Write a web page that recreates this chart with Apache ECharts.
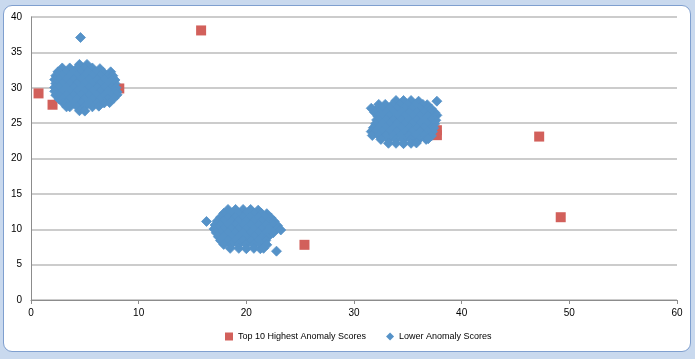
<!DOCTYPE html>
<html>
<head>
<meta charset="utf-8">
<script src="https://cdn.jsdelivr.net/npm/echarts@6/dist/echarts.min.js"></script>
<style>
  html, body { margin: 0; padding: 0; width: 695px; height: 359px; overflow: hidden; background: #c9d9ee; }
  #frame { position: absolute; left: 3px; top: 5px; width: 686px; height: 345px; background: #ffffff;
           border: 1px solid #7f9fcf; border-radius: 9px; }
  #chart { position: absolute; left: 0; top: 0; width: 695px; height: 359px; }
</style>
</head>
<body>
<div id="frame"></div>
<div id="chart"></div>
<script>
// Axis settings
var xTicks = [0, 10, 20, 30, 40, 50, 60];
var yTicks = [0, 5, 10, 15, 20, 25, 30, 35, 40];

var seriesNames = ["Top 10 Highest Anomaly Scores", "Lower Anomaly Scores"];

// Top 10 highest anomaly scores (x, y)
var topScores = [
  [0.7, 29.2], [2.0, 27.6], [8.2, 29.9], [15.8, 38.1], [25.4, 7.8],
  [37.7, 24.0], [37.7, 23.3], [47.2, 23.1], [49.2, 11.7], [37.4, 23.7]
];

// Lower anomaly scores - cluster near (5, 30)
var clusterA = [
  [4.5, 33.3], [5.2, 33.3],
  [2.9, 32.8], [3.6, 32.8], [4.3, 32.8], [5.0, 32.8], [5.7, 32.8], [6.4, 32.7],
  [2.5, 32.25], [3.2, 32.25], [3.9, 32.25], [4.6, 32.25], [5.3, 32.25], [6.0, 32.25], [6.7, 32.2], [7.4, 32.25],
  [2.3, 31.7], [2.9, 31.7], [3.6, 31.7], [4.3, 31.7], [5.0, 31.7], [5.7, 31.7], [6.4, 31.7], [7.1, 31.7], [7.6, 31.7],
  [2.2, 31.15], [2.6, 31.15], [3.3, 31.15], [4.0, 31.15], [4.7, 31.15], [5.4, 31.15], [6.1, 31.15], [6.8, 31.15], [7.5, 31.15], [7.8, 31.1],
  [2.3, 30.6], [2.9, 30.6], [3.6, 30.6], [4.3, 30.6], [5.0, 30.6], [5.7, 30.6], [6.4, 30.6], [7.1, 30.6], [7.8, 30.6],
  [2.2, 30.05], [2.6, 30.05], [3.3, 30.05], [4.0, 30.05], [4.7, 30.05], [5.4, 30.05], [6.1, 30.05], [6.8, 30.05], [7.5, 30.05], [7.9, 30.0],
  [2.2, 29.5], [2.9, 29.5], [3.6, 29.5], [4.3, 29.5], [5.0, 29.5], [5.7, 29.5], [6.4, 29.5], [7.1, 29.5], [7.8, 29.5], [8.0, 29.4],
  [2.3, 28.95], [2.6, 28.95], [3.3, 28.95], [4.0, 28.95], [4.7, 28.95], [5.4, 28.95], [6.1, 28.95], [6.8, 28.95], [7.5, 28.95], [8.0, 29.0],
  [2.6, 28.4], [2.9, 28.4], [3.6, 28.4], [4.3, 28.4], [5.0, 28.4], [5.7, 28.4], [6.4, 28.4], [7.1, 28.4], [7.7, 28.5],
  [3.0, 27.85], [3.3, 27.85], [4.0, 27.85], [4.7, 27.85], [5.4, 27.85], [6.1, 27.85], [6.8, 27.85], [7.3, 27.9],
  [3.3, 27.3], [3.6, 27.3], [4.3, 27.3], [5.0, 27.3], [5.7, 27.3], [6.3, 27.4],
  [4.5, 26.75], [5.0, 26.7],
  [4.6, 37.1]
];

// Lower anomaly scores - cluster near (35, 25)
var clusterB = [
  [33.9, 28.2], [34.6, 28.2], [35.3, 28.2], [36.0, 28.1],
  [32.3, 27.65], [32.9, 27.65], [33.6, 27.65], [34.3, 27.65], [35.0, 27.65], [35.7, 27.65], [36.4, 27.65], [36.8, 27.6],
  [31.6, 27.1], [32.2, 27.1], [32.6, 27.1], [33.3, 27.1], [34.0, 27.1], [34.7, 27.1], [35.4, 27.1], [36.1, 27.1], [36.8, 27.1], [37.2, 27.0],
  [31.9, 26.55], [32.3, 26.55], [33.0, 26.55], [33.7, 26.55], [34.4, 26.55], [35.1, 26.55], [35.8, 26.55], [36.5, 26.55], [37.2, 26.55], [37.5, 26.5],
  [32.2, 26.0], [32.6, 26.0], [33.3, 26.0], [34.0, 26.0], [34.7, 26.0], [35.4, 26.0], [36.1, 26.0], [36.8, 26.0], [37.5, 26.0], [37.7, 26.1],
  [32.1, 25.45], [32.3, 25.45], [33.0, 25.45], [33.7, 25.45], [34.4, 25.45], [35.1, 25.45], [35.8, 25.45], [36.5, 25.45], [37.2, 25.45], [37.6, 25.4],
  [32.0, 24.9], [32.6, 24.9], [33.3, 24.9], [34.0, 24.9], [34.7, 24.9], [35.4, 24.9], [36.1, 24.9], [36.8, 24.9], [37.5, 24.9],
  [31.8, 24.35], [32.3, 24.35], [33.0, 24.35], [33.7, 24.35], [34.4, 24.35], [35.1, 24.35], [35.8, 24.35], [36.5, 24.35], [37.2, 24.35], [37.4, 24.3],
  [31.6, 23.8], [32.0, 23.8], [32.6, 23.8], [33.3, 23.8], [34.0, 23.8], [34.7, 23.8], [35.4, 23.8], [36.1, 23.8], [36.8, 23.8], [37.3, 23.8],
  [31.7, 23.25], [32.3, 23.25], [33.0, 23.25], [33.7, 23.25], [34.4, 23.25], [35.1, 23.25], [35.8, 23.25], [36.5, 23.25], [37.2, 23.2],
  [32.5, 22.7], [33.2, 22.7], [33.9, 22.7], [34.6, 22.7], [35.3, 22.7], [36.0, 22.7], [36.7, 22.7], [36.9, 22.8],
  [33.2, 22.15], [33.9, 22.15], [34.6, 22.1], [35.3, 22.15], [35.8, 22.2],
  [37.7, 28.1]
];

// Lower anomaly scores - cluster near (20, 10)
var clusterC = [
  [18.3, 12.8], [19.0, 12.8], [19.7, 12.8], [20.4, 12.8], [21.1, 12.7],
  [17.9, 12.25], [18.6, 12.25], [19.3, 12.25], [20.0, 12.25], [20.7, 12.25], [21.4, 12.25], [21.9, 12.2],
  [17.6, 11.7], [18.3, 11.7], [19.0, 11.7], [19.7, 11.7], [20.4, 11.7], [21.1, 11.7], [21.8, 11.7], [22.3, 11.6],
  [17.3, 11.15], [17.9, 11.15], [18.6, 11.15], [19.3, 11.15], [20.0, 11.15], [20.7, 11.15], [21.4, 11.15], [22.1, 11.15], [22.6, 11.1],
  [17.1, 10.6], [17.6, 10.6], [18.3, 10.6], [19.0, 10.6], [19.7, 10.6], [20.4, 10.6], [21.1, 10.6], [21.8, 10.6], [22.5, 10.6], [22.9, 10.5],
  [17.0, 10.05], [17.4, 10.05], [17.9, 10.05], [18.6, 10.05], [19.3, 10.05], [20.0, 10.05], [20.7, 10.05], [21.4, 10.05], [22.1, 10.05], [22.8, 10.05], [23.2, 9.9],
  [17.2, 9.5], [17.6, 9.5], [18.3, 9.5], [19.0, 9.5], [19.7, 9.5], [20.4, 9.5], [21.1, 9.5], [21.8, 9.5], [22.5, 9.5],
  [17.4, 8.95], [17.9, 8.95], [18.6, 8.95], [19.3, 8.95], [20.0, 8.95], [20.7, 8.95], [21.4, 8.95], [22.0, 8.9],
  [17.6, 8.4], [18.3, 8.4], [19.0, 8.4], [19.7, 8.4], [20.4, 8.4], [21.1, 8.4], [21.8, 8.4],
  [17.9, 7.85], [18.6, 7.85], [19.3, 7.85], [20.0, 7.85], [20.7, 7.85], [21.4, 7.85], [21.9, 7.8],
  [18.5, 7.3], [19.3, 7.3], [20.0, 7.25], [20.7, 7.3], [21.3, 7.25], [21.6, 7.3],
  [16.3, 11.1], [22.8, 6.9]
];

var lowerScores = clusterA.concat(clusterB, clusterC);

var chart = echarts.init(document.getElementById('chart'), null, { renderer: 'canvas' });
var font = '"Liberation Sans", "DejaVu Sans", sans-serif';
chart.setOption({
  animation: false,
  backgroundColor: 'transparent',
  grid: { left: 31, right: 18, top: 17, bottom: 59, containLabel: false },
  legend: {
    bottom: 13,
    left: 220,
    itemGap: 20,
    itemWidth: 8,
    itemHeight: 8,
    textStyle: { fontFamily: font, fontSize: 9, color: '#000' },
    data: [
      { name: seriesNames[0], icon: 'rect', itemStyle: { borderWidth: 0 } },
      { name: seriesNames[1], icon: 'diamond', itemStyle: { borderWidth: 0 } }
    ]
  },
  xAxis: {
    type: 'value',
    min: xTicks[0],
    max: xTicks[xTicks.length - 1],
    interval: 10,
    axisLine: { show: true, onZero: false, lineStyle: { color: '#8c8c8c', width: 1 } },
    axisTick: { show: true, length: 4, inside: false, lineStyle: { color: '#8c8c8c' } },
    splitLine: { show: false },
    axisLabel: { fontFamily: font, fontSize: 10, color: '#000', margin: 8 }
  },
  yAxis: {
    type: 'value',
    min: yTicks[0],
    max: yTicks[yTicks.length - 1],
    interval: 5,
    axisLine: { show: true, onZero: false, lineStyle: { color: '#8c8c8c', width: 1 } },
    axisTick: { show: false },
    splitLine: { show: true, lineStyle: { color: '#cccccc', width: 2 } },
    axisLabel: { fontFamily: font, fontSize: 10, color: '#000', margin: 9 }
  },
  series: [
    {
      name: seriesNames[1],
      type: 'scatter',
      symbol: 'diamond',
      symbolSize: 10,
      itemStyle: { color: '#5592c8', borderColor: '#5592c8', borderWidth: 0.8, opacity: 1 },
      data: lowerScores,
      z: 2
    },
    {
      name: seriesNames[0],
      type: 'scatter',
      symbol: 'rect',
      symbolSize: 10,
      itemStyle: { color: '#d2605b', opacity: 1 },
      data: topScores,
      z: 1
    }
  ]
});
</script>
</body>
</html>
